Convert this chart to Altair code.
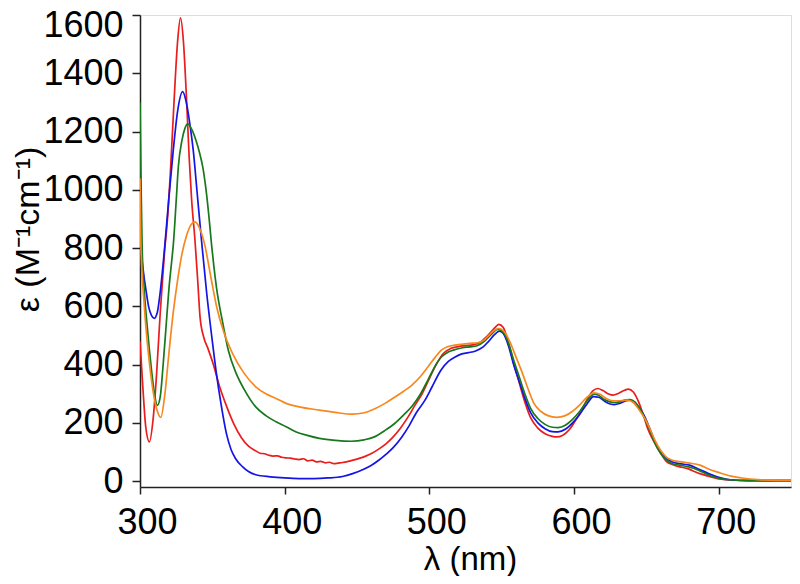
import altair as alt
import pandas as pd

# ---- data ----
red_nm = [300, 302, 304, 306.5, 309, 311.5, 314, 317, 319, 321, 323.5, 326, 328, 330, 332.2, 334, 335.7, 338, 340, 341.5,
          344, 347, 350.5, 355, 360, 365, 370, 375, 380, 383, 386, 389, 392, 395, 398, 401, 404, 407, 410, 413,
          416, 419, 422, 425, 428, 431, 434, 437, 440, 444, 448, 452, 456, 460, 465, 470, 475, 480, 485, 490,
          495, 500, 505, 510, 515, 520, 525, 530, 535, 540, 545, 548, 551, 555, 558, 562, 566, 570, 575, 580,
          585, 588, 592, 597, 601, 605, 609, 613, 616.5, 620, 624, 627, 631, 635, 637.5, 641, 645, 648, 651, 655,
          660, 664, 668, 673, 678, 682, 687, 692, 700, 710, 720, 735, 750]
red_eps = [480, 320, 185, 135, 210, 370, 580, 790, 900, 1060, 1300, 1510, 1590, 1510, 1308, 1110, 965, 827, 680, 564,
           495, 455, 404, 325, 255, 195, 150, 120, 104, 96, 94, 89, 86, 87, 82, 80, 79, 76, 74, 77,
           70, 72, 66, 68, 63, 65, 60, 62, 64, 68, 73, 79, 86, 95, 110, 128, 152, 182, 218, 260,
           300, 352, 403, 440, 456, 462, 465, 468, 476, 498, 525, 538, 528, 470, 410, 340, 272, 218, 182, 163,
           154, 152, 157, 178, 208, 240, 280, 310, 318, 311, 299, 295, 302, 312, 316, 306, 268, 226, 180, 138,
           95, 67, 57, 49, 44, 36, 26, 18, 8, 4, 3, 2, 2]

blue_nm = [300, 300.4, 302.5, 304, 306, 308, 309.8, 312, 314, 317, 320, 323, 326, 329.5, 332, 334.5, 336.8, 339.5, 342.5, 346,
           350, 352.8, 356, 359.7, 363, 366, 371, 375, 380, 390, 400, 410, 420, 430, 440, 447, 455, 460, 465, 470,
           475, 481, 486, 491, 497, 502, 508, 513, 517.5, 522, 527, 532, 537, 541, 545, 548.5, 551, 555, 558, 562,
           566, 570, 575, 580, 585, 589, 594, 599, 604, 609, 613.5, 617, 621, 625, 628, 632, 636, 639, 642, 646,
           649, 652, 656, 660, 664, 668, 673, 680, 686, 693, 700, 709, 720, 735, 750]
blue_eps = [1070, 830, 713, 660, 598, 568, 559, 580, 650, 800, 975, 1136, 1270, 1337, 1300, 1225, 1136, 990, 827, 650,
            480, 370, 265, 164, 108, 78, 49, 33, 22, 15, 11, 9, 9, 11, 16, 26, 42, 55, 72, 92,
            115, 152, 190, 235, 278, 325, 381, 410, 425, 436, 441, 447, 460, 480, 503, 515, 508, 460, 405, 345,
            285, 235, 200, 180, 170, 169, 178, 200, 230, 265, 290, 288, 275, 265, 263, 268, 276, 278, 270, 245,
            221, 185, 135, 100, 78, 66, 60, 55, 42, 26, 13, 4, 2, 2, 2]

green_nm = [300, 300.8, 301.5, 303, 304.8, 306.5, 308.2, 310, 312, 314, 316, 318, 320, 322, 323, 325, 326.5, 329, 331, 333,
            336, 339, 341, 343.5, 346, 348, 349.4, 351, 353, 357.3, 361, 366.5, 372, 380, 387, 394, 401, 408, 415, 424,
            435, 446, 455, 462, 469, 476, 482, 488, 494, 499, 504, 508.5, 513, 518, 523, 528, 533, 538, 543, 547,
            551, 555, 558, 562, 566, 570, 575, 580, 585, 589, 594, 599, 604, 609, 614, 617, 621, 625, 628, 632,
            636, 639, 642, 646, 649, 652, 656, 660, 664, 668, 673, 680, 686, 693, 700, 710, 720, 735, 750]
green_eps = [1300, 1000, 800, 650, 541, 450, 370, 300, 260, 290, 400, 530, 660, 760, 810, 960, 1079, 1170, 1210, 1226,
             1205, 1165, 1130, 1075, 985, 890, 815, 740, 660, 541, 450, 370, 315, 255, 225, 204, 187, 169, 158, 147,
             140, 137, 142, 152, 173, 198, 226, 257, 300, 347, 395, 427, 443, 452, 458, 461, 465, 480, 505, 521,
             512, 470, 420, 360, 300, 250, 215, 195, 185, 184, 192, 212, 240, 275, 299, 295, 280, 272, 270, 273,
             279, 280, 272, 245, 215, 180, 130, 95, 72, 60, 55, 48, 38, 21, 10, 4, 2, 2, 2]

orange_nm = [300, 300.5, 303, 306, 309, 312, 314.4, 317, 320, 323, 326, 329, 332, 335, 338, 341, 344.8, 349, 353, 358,
             364, 372, 380, 387, 394, 401, 410, 424, 435, 446.6, 455, 462, 469.4, 476, 482, 488, 494, 499, 504, 508.3,
             513, 517.5, 522, 528, 533.5, 538, 542, 545, 548, 552, 556, 560, 564, 568, 572.3, 577, 582, 588, 594, 599,
             604, 609, 614, 618, 622, 627, 632, 637, 641, 645, 649, 652, 656, 660, 664, 668, 673, 680, 687, 693,
             700, 708, 716, 727, 740, 750]
orange_eps = [1040, 830, 600, 430, 310, 240, 219, 290, 440, 580, 690, 780, 840, 878, 890, 870, 810, 700, 598, 510,
              438, 370, 324, 300, 284, 267, 255, 244, 236, 230, 235, 248, 267, 288, 308, 330, 360, 392, 425, 450,
              462, 467, 470, 473, 475, 485, 505, 518, 524, 512, 475, 425, 375, 320, 267, 240, 225, 219, 225, 240,
              262, 288, 303, 298, 285, 276, 276, 278, 270, 245, 215, 185, 140, 105, 82, 72, 67, 62, 55, 42,
              30, 18, 11, 5, 3, 3]

series_names = ["red", "blue", "green", "orange"]
series_colors = ["#ea1c1c", "#1414e6", "#17781c", "#f7881f"]
x_ticks = [300, 400, 500, 600, 700]
y_ticks = [0, 200, 400, 600, 800, 1000, 1200, 1400, 1600]

rows = []
for k, (name, nm, eps) in enumerate(zip(series_names,
                                        [red_nm, blue_nm, green_nm, orange_nm],
                                        [red_eps, blue_eps, green_eps, orange_eps])):
    for a, b in zip(nm, eps):
        rows.append({"series": name, "k": k, "nm": a, "eps": b})
df = pd.DataFrame(rows)

FONT = "Liberation Sans"

chart = alt.Chart(df).mark_line(strokeWidth=1.7, interpolate="monotone", clip=True).encode(
    x=alt.X("nm:Q",
            scale=alt.Scale(domain=[300, 750], nice=False, zero=False),
            axis=alt.Axis(values=x_ticks, format="d", grid=False, title="λ (nm)",
                          labelFontSize=36, labelFont=FONT, labelColor="#000",
                          labelPadding=11, labelOffset=7, labelFlush=False,
                          tickSize=7, tickWidth=1.5, tickColor="#222",
                          domainWidth=1.5, domainColor="#222",
                          titleFontSize=33, titleFont=FONT, titleFontWeight="normal", titleColor="#000",
                          titleX=330, titleY=82, titleBaseline="alphabetic", titleAlign="center")),
    y=alt.Y("eps:Q",
            scale=alt.Scale(domain=[-20, 1600], nice=False, zero=False),
            axis=alt.Axis(values=y_ticks, format="d", grid=False, title="ε (M⁻¹cm⁻¹)",
                          labelFontSize=36, labelFont=FONT, labelColor="#000",
                          labelPadding=9, labelBaseline="middle",
                          labelOffset={"condition": {"test": "datum.value === 1600", "value": 10}, "value": 0},
                          tickSize=8, tickWidth=1.5, tickColor="#222",
                          domainWidth=1.5, domainColor="#222",
                          titleFontSize=34, titleFont=FONT, titleFontWeight="normal", titleColor="#000",
                          titleAngle=270, titleX=-102, titleY=214, titleBaseline="alphabetic",
                          titleAlign="center")),
    color=alt.Color("series:N", scale=alt.Scale(domain=series_names, range=series_colors), legend=None),
    detail="k:N",
).properties(
    width=651,
    height=472,
    autosize=alt.AutoSizeParams(type="none"),
    padding={"left": 132, "top": 7, "right": 1, "bottom": 89},
).configure_view(
    stroke="#222", strokeWidth=1.5
).configure(background="white")

chart.save("out.html", embed_options={"renderer": "svg", "actions": False})
